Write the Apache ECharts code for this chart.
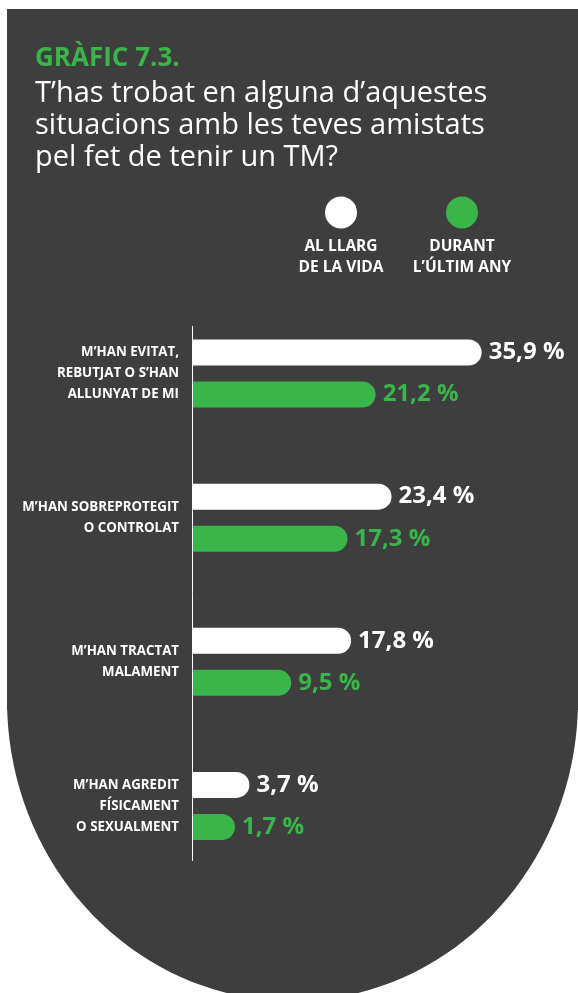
<!DOCTYPE html>
<html>
<head>
<meta charset="utf-8">
<script src="https://cdn.jsdelivr.net/npm/echarts@6/dist/echarts.min.js"></script>
<style>
  html, body { margin: 0; padding: 0; background: #fff; }
  #chart { width: 578px; height: 993px; }
</style>
</head>
<body>
<div id="chart"></div>
<script>
const categories = [
  "M’HAN EVITAT,\nREBUTJAT O S’HAN\nALLUNYAT DE MI",
  "M’HAN SOBREPROTEGIT\nO CONTROLAT",
  "M’HAN TRACTAT\nMALAMENT",
  "M’HAN AGREDIT\nFÍSICAMENT\nO SEXUALMENT"
];
const lifetime = [35.9, 23.4, 17.8, 3.7];
const lastYear = [21.2, 17.3, 9.5, 1.7];
const seriesNames = ["AL LLARG\nDE LA VIDA", "DURANT\nL’ÚLTIM ANY"];

const DARK = "#3e3e3e";
const GREEN = "#3ab54a";
const FONT = "Open Sans";

const chart = echarts.init(document.getElementById("chart"));

function pct(v) {
  return v.toFixed(1).replace(".", ",") + " %";
}

chart.setOption({
  animation: false,
  textStyle: { fontFamily: FONT },
  title: [
    {
      text: "GRÀFIC 7.3.",
      left: 35,
      top: 46,
      padding: 0,
      textStyle: { color: GREEN, fontSize: 26, fontWeight: "bold", lineHeight: 26, fontFamily: FONT }
    },
    {
      text: "T’has trobat en alguna d’aquestes\nsituacions amb les teves amistats\npel fet de tenir un TM?",
      left: 35,
      top: 78,
      padding: 0,
      textStyle: { color: "#fff", fontSize: 29, fontWeight: "normal", lineHeight: 32, fontFamily: FONT }
    }
  ],
  graphic: [
    // background panel: square top, rounded bottom
    { type: "rect", z: -100, silent: true, shape: { x: 7, y: 9, width: 571, height: 701 }, style: { fill: DARK } },
    { type: "ellipse", z: -100, silent: true, shape: { cx: 292.5, cy: 700, rx: 285.5, ry: 301 }, style: { fill: DARK } },
    // axis line
    { type: "line", z: 5, silent: true, shape: { x1: 192.5, y1: 326, x2: 192.5, y2: 861 }, style: { stroke: "#fff", lineWidth: 1 } },
    // legend
    { type: "circle", z: 5, shape: { cx: 341, cy: 212.5, r: 16 }, style: { fill: "#fff" } },
    { type: "circle", z: 5, shape: { cx: 462, cy: 212.5, r: 16 }, style: { fill: GREEN } },
    { type: "text", z: 5, x: 341, y: 257, style: { text: seriesNames[0], fill: "#fff", font: "bold 15.5px 'Open Sans'", lineHeight: 21, align: "center", verticalAlign: "middle" } },
    { type: "text", z: 5, x: 462, y: 257, style: { text: seriesNames[1], fill: "#fff", font: "bold 15.5px 'Open Sans'", lineHeight: 21, align: "center", verticalAlign: "middle" } }
  ],
  grid: { left: 193, right: 30.7, top: 301.5, bottom: 115, containLabel: false },
  xAxis: {
    type: "value",
    min: -4.12,
    max: 45,
    startValue: -4.12,
    show: false,
    splitLine: { show: false }
  },
  yAxis: {
    type: "category",
    data: categories,
    inverse: true,
    axisLine: { show: false },
    axisTick: { show: false },
    axisLabel: {
      color: "#fff",
      fontFamily: FONT,
      fontSize: 13.3,
      fontWeight: "bold",
      lineHeight: 21,
      margin: 14,
      align: "right"
    }
  },
  series: [
    {
      name: seriesNames[0],
      type: "bar",
      data: lifetime,
      barWidth: 26,
      barGap: "62%",
      itemStyle: { color: "#fff", borderRadius: [0, 13, 13, 0] },
      label: {
        show: true,
        position: "right",
        distance: 7,
        color: "#fff",
        fontFamily: FONT,
        fontSize: 24,
        fontWeight: "bold",
        formatter: (p) => pct(p.value)
      }
    },
    {
      name: seriesNames[1],
      type: "bar",
      data: lastYear,
      barWidth: 26,
      barGap: "62%",
      itemStyle: { color: GREEN, borderRadius: [0, 13, 13, 0] },
      label: {
        show: true,
        position: "right",
        distance: 7,
        color: GREEN,
        fontFamily: FONT,
        fontSize: 24,
        fontWeight: "bold",
        formatter: (p) => pct(p.value)
      }
    }
  ]
});
</script>
</body>
</html>
